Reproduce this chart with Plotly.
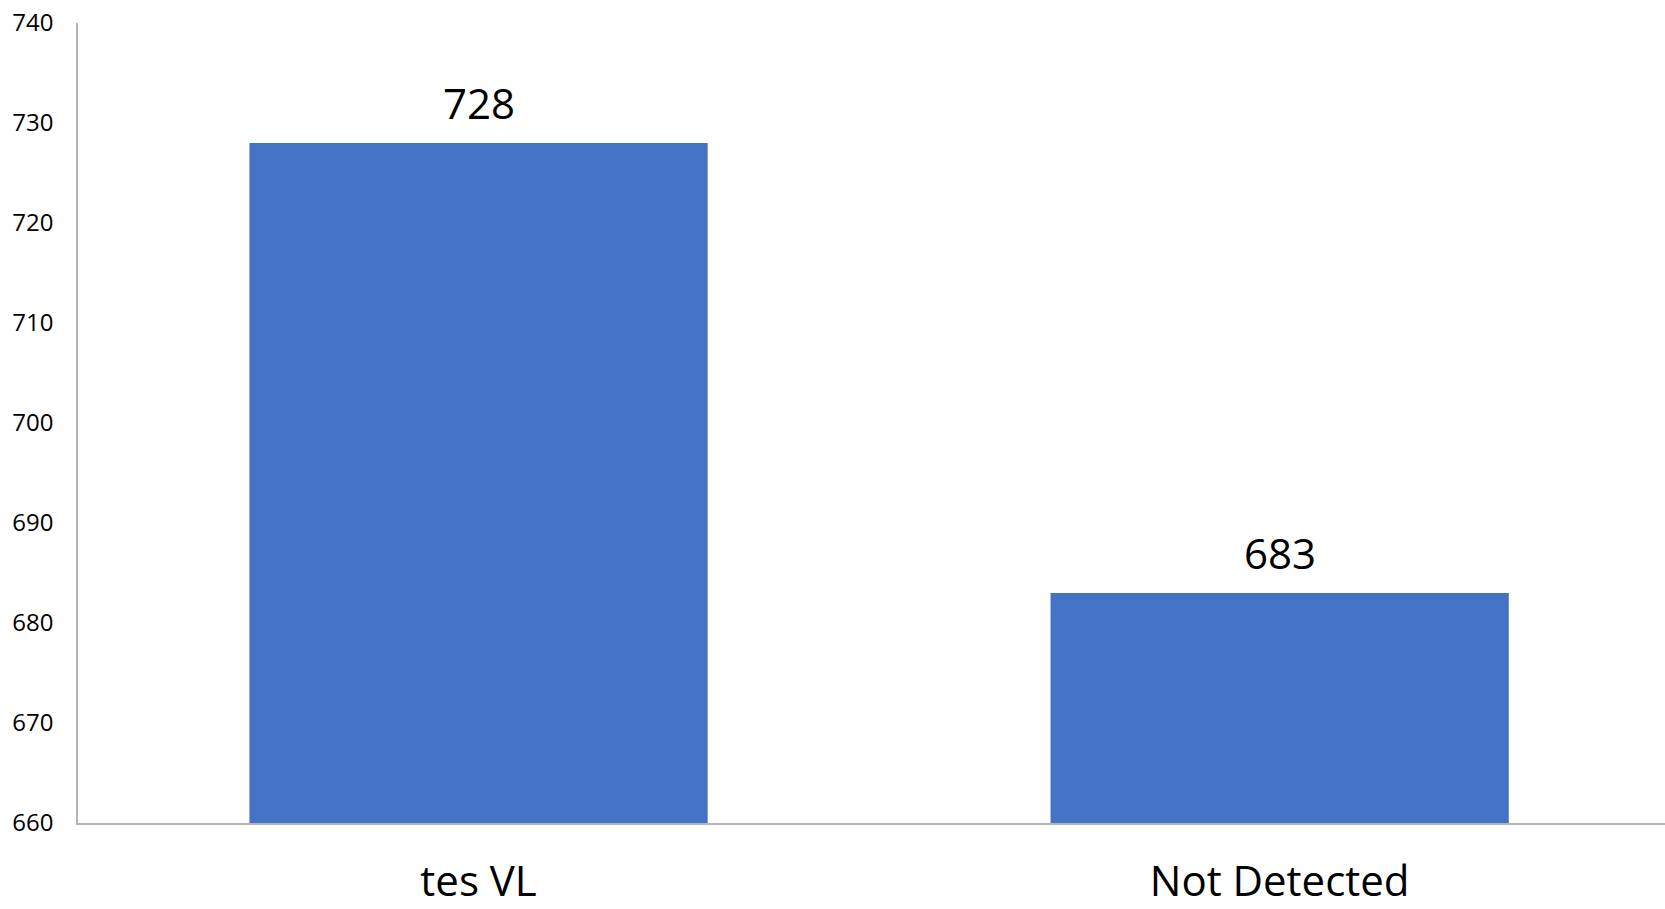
import plotly.graph_objects as go

categories = ["tes VL", "Not Detected"]
values = [728, 683]
y_ticks = [660, 670, 680, 690, 700, 710, 720, 730, 740]

BAR_COLOR = "#4472C4"
FONT = "Open Sans"

fig = go.Figure()
fig.add_trace(go.Bar(
    x=categories,
    y=values,
    marker=dict(color=BAR_COLOR, line=dict(width=0)),
    hoverinfo="x+y",
))

annotations = [
    dict(x=c, y=v, text=str(v), showarrow=False, xref="x", yref="y",
         yanchor="bottom", yshift=10,
         font=dict(family=FONT, size=42, color="#000000"))
    for c, v in zip(categories, values)
]

fig.update_layout(
    width=1665,
    height=909,
    margin=dict(l=78, r=0, t=23, b=86, pad=0),
    paper_bgcolor="white",
    plot_bgcolor="white",
    showlegend=False,
    bargap=0.428,
    annotations=annotations,
    font=dict(family=FONT, color="#000000"),
)
fig.update_xaxes(
    range=[-0.5, 1.481],
    automargin=False,
    showgrid=False,
    showline=True,
    linecolor="#b4b4b4",
    linewidth=1.5,
    ticks="",
    tickfont=dict(family=FONT, size=42, color="#000000"),
    ticklabelstandoff=21,
    ticklabeloverflow="allow",
    zeroline=False,
)
fig.update_yaxes(
    range=[660, 740],
    automargin=False,
    tickvals=y_ticks,
    ticktext=[str(t) for t in y_ticks],
    showgrid=False,
    showline=True,
    linecolor="#b4b4b4",
    linewidth=1.5,
    ticks="",
    tickfont=dict(family=FONT, size=24, color="#000000"),
    ticklabelstandoff=18,
    ticklabeloverflow="allow",
    zeroline=False,
)

fig.write_html(
    "out.html",
    config={"displayModeBar": False},
    post_script="document.body.style.margin='0';document.body.style.overflow='hidden';",
)
